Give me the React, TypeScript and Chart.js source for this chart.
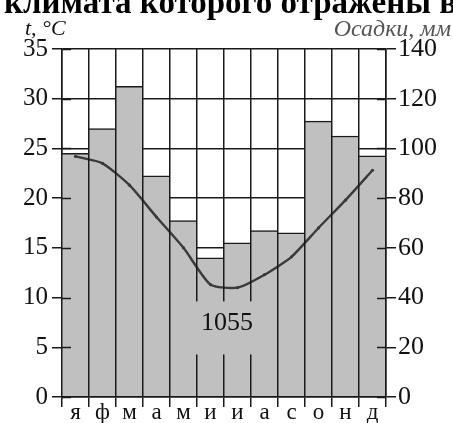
import React, { useEffect, useRef } from "react";
import { Chart, registerables } from "chart.js";

Chart.register(...registerables);

const months = ["я", "ф", "м", "а", "м", "и", "и", "а", "с", "о", "н", "д"];
const precipitation = [98, 108, 125, 89, 71, 56, 62, 67, 66, 111, 105, 97];
const temperature = [24.2, 23.5, 21.3, 18.1, 15.0, 11.3, 11.0, 12.3, 14.1, 17.0, 19.8, 22.8];
const totalLabel = "1055";
const titleText = "климата которого отражены в";

const SERIF = "'Liberation Serif', 'Times New Roman', serif";

const overlayPlugin = {
  id: "overlay",
  afterDraw(chart: any) {
    const ctx = chart.ctx;
    const yT = chart.scales.yT;
    const yP = chart.scales.yP;
    const area = chart.chartArea;
    ctx.save();
    ctx.strokeStyle = "#1a1a1a";
    ctx.lineWidth = 1.5;
    // inward tick extensions
    for (let v = 0; v <= 35; v += 5) {
      const y = Math.round(yT.getPixelForValue(v)) + 0.5;
      ctx.beginPath();
      ctx.moveTo(area.left, y);
      ctx.lineTo(area.left + 9, y);
      ctx.stroke();
    }
    for (let v = 0; v <= 140; v += 20) {
      const y = Math.round(yP.getPixelForValue(v)) + 0.5;
      ctx.beginPath();
      ctx.moveTo(area.right - 9, y);
      ctx.lineTo(area.right, y);
      ctx.stroke();
    }
    // total label box
    const x = chart.scales.x;
    const cx = (x.getPixelForValue(5) + x.getPixelForValue(6)) / 2 + 3;
    const cy = yT.getPixelForValue(7.4);
    ctx.fillStyle = "#c0c0c0";
    ctx.fillRect(cx - 35, cy - 22, 70, 53);
    ctx.fillStyle = "#111";
    ctx.font = "26px " + SERIF;
    ctx.textAlign = "center";
    ctx.textBaseline = "middle";
    ctx.fillText(totalLabel, cx, cy);
    ctx.restore();
  },
};

export default function App() {
  const ref = useRef<HTMLCanvasElement>(null);
  useEffect(() => {
    if (!ref.current) return;
    const chart = new Chart(ref.current, {
      type: "bar",
      data: {
        labels: months,
        datasets: [
          {
            type: "line",
            label: "t",
            data: temperature,
            yAxisID: "yT",
            borderColor: "#3a3a3a",
            borderWidth: 2.4,
            pointRadius: 1.6,
            pointBackgroundColor: "#3a3a3a",
            pointBorderWidth: 0,
            tension: 0.2,
            order: 0,
          } as any,
          {
            type: "bar",
            label: "p",
            data: precipitation,
            yAxisID: "yP",
            backgroundColor: "#c0c0c0",
            borderColor: "#1a1a1a",
            borderWidth: { top: 1.5, left: 0, right: 0, bottom: 0 },
            borderSkipped: false,
            categoryPercentage: 1,
            barPercentage: 1,
            order: 1,
          } as any,
        ],
      },
      options: {
        responsive: false,
        animation: false,
        events: [],
        layout: { padding: { top: 49, left: 0, right: 0, bottom: 0 } },
        plugins: { legend: { display: false }, tooltip: { enabled: false } },
        scales: {
          x: {
            offset: true,
            grid: {
              offset: true,
              color: "#1a1a1a",
              lineWidth: 1.5,
              tickLength: 10,
              z: 1,
            },
            border: { display: true, color: "#1a1a1a", width: 1.5, z: 1 },
            ticks: {
              color: "#111",
              font: { family: SERIF, size: 23 },
              padding: -8,
              maxRotation: 0,
              autoSkip: false,
            },
            afterFit: (s: any) => {
              s.height = 26;
            },
          },
          yT: {
            position: "left",
            min: 0,
            max: 35,
            grid: { color: "#1a1a1a", lineWidth: 1.5, tickLength: 10 },
            border: { display: true, color: "#1a1a1a", width: 1.5 },
            ticks: {
              stepSize: 5,
              color: "#111",
              font: { family: SERIF, size: 25 },
              padding: 4,
            },
            afterFit: (s: any) => {
              s.width = 62;
            },
          },
          yP: {
            position: "right",
            min: 0,
            max: 140,
            grid: { drawOnChartArea: false, color: "#1a1a1a", lineWidth: 1.5, tickLength: 10 },
            border: { display: true, color: "#1a1a1a", width: 1.5 },
            ticks: {
              stepSize: 20,
              color: "#111",
              font: { family: SERIF, size: 26 },
              padding: 2,
            },
            afterFit: (s: any) => {
              s.width = 67;
            },
          },
        },
      },
      plugins: [overlayPlugin],
    });
    return () => chart.destroy();
  }, []);

  return (
    <div style={{ position: "absolute", left: 0, top: 0, width: 453, height: 423, overflow: "hidden", background: "#fff" }}>
      <canvas ref={ref} width={453} height={423} style={{ position: "absolute", left: 0, top: 0 }} />
      <div
        style={{
          position: "absolute",
          left: 4,
          top: -15,
          fontFamily: SERIF,
          fontWeight: "bold",
          fontSize: 33,
          lineHeight: "34px",
          whiteSpace: "nowrap",
          color: "#000",
        }}
      >
        {titleText}
      </div>
      <div
        style={{
          position: "absolute",
          left: 25,
          top: 16,
          fontFamily: SERIF,
          fontStyle: "italic",
          fontSize: 22,
          lineHeight: "24px",
          whiteSpace: "nowrap",
          color: "#111",
        }}
      >
        t, °C
      </div>
      <div
        style={{
          position: "absolute",
          right: 2,
          top: 15,
          fontFamily: SERIF,
          fontStyle: "italic",
          fontSize: 24,
          lineHeight: "26px",
          whiteSpace: "nowrap",
          color: "#555",
        }}
      >
        Осадки, мм
      </div>
    </div>
  );
}
